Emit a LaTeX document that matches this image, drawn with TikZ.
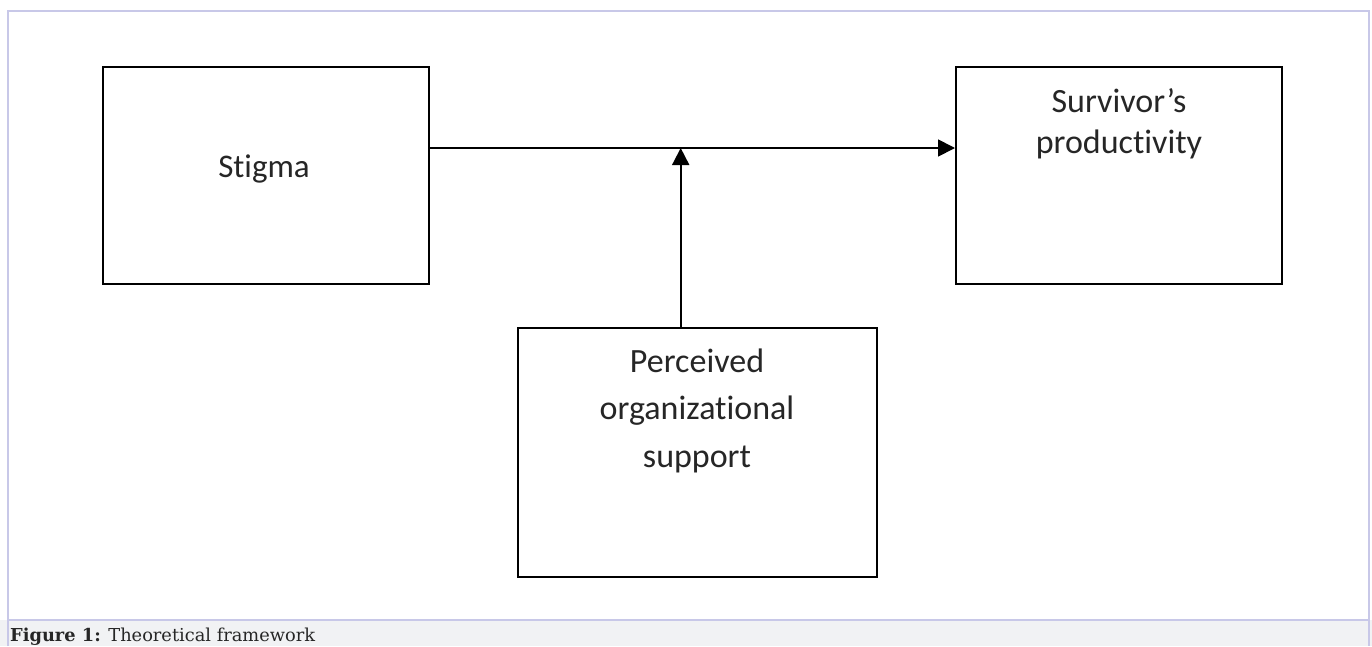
\documentclass[tikz,border=0pt]{standalone}
\usepackage{fontspec}
\setmainfont{Carlito}[Ligatures=NoCommon]
\newfontfamily\capfont{DejaVu Serif}
\usetikzlibrary{arrows.meta}
\definecolor{framecol}{HTML}{C8C8E8}
\definecolor{bandcol}{HTML}{F1F2F4}
\begin{document}
\begin{tikzpicture}[x=1pt,y=-1pt,
  box/.style={draw=black,line width=1.8pt,inner sep=0pt,anchor=north west},
  boxtext/.style={anchor=base,align=center,inner sep=0pt,text=black!85},
  arr/.style={draw=black,line width=1.8pt,-{Triangle[length=17pt,width=17pt]}}]
\useasboundingbox (0,0) rectangle (1372,646);
\fill[white] (0,0) rectangle (1372,646);
% caption band and frame
\fill[bandcol] (0,620) rectangle (1372,646);
\draw[framecol,line width=1.2pt] (8,646) -- (8,11) -- (1369,11) -- (1369,646);
\draw[framecol,line width=1.2pt] (8,620) -- (1369,620);
\node[anchor=base west,inner sep=0pt,font=\capfont\fontsize{17.8}{20}\selectfont,text=black!85] (cap) at (10,641) {\textbf{Figure 1:} Theoretical framework};
% boxes
\node[box,minimum width=326pt,minimum height=217pt] (stigma) at (102,66) {};
\node[box,minimum width=326pt,minimum height=217pt] (surv) at (955,66) {};
\node[box,minimum width=359pt,minimum height=249pt] (pos) at (517,327) {};
% texts (anchor at baseline of last line)
\node[boxtext,font=\fontsize{33}{41}\selectfont] (tstigma) at (264,177) {Stigma};
\node[boxtext,font=\fontsize{34}{41}\selectfont] (tsurv) at (1119,153) {Survivor’s\\productivity};
\node[boxtext,font=\fontsize{34}{47.5}\selectfont] (tpos) at (697,467) {Perceived\\organizational\\support};
% connectors
\coordinate (h) at (0,148);
\coordinate (m) at (680.7,148);
\draw[arr] (stigma.east |- h) -- (surv.west |- h);
\draw[arr] (m |- pos.north) -- (m);
\end{tikzpicture}
\end{document}
